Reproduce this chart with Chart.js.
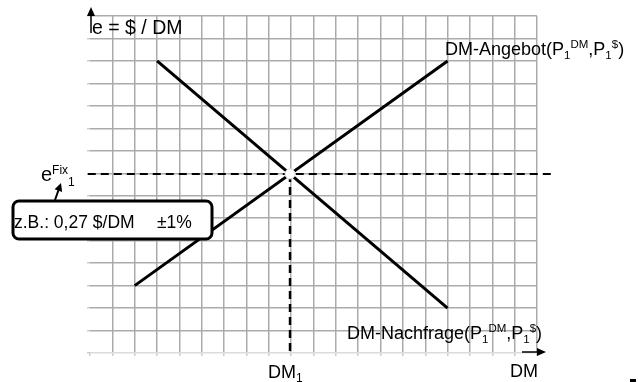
<!DOCTYPE html>
<html>
<head>
<meta charset="utf-8">
<script src="https://cdn.jsdelivr.net/npm/chart.js@4"></script>
<style>
  body { margin: 0; background: #fff; }
  #wrap { width: 638px; height: 382px; }
</style>
</head>
<body>
<div id="wrap"><canvas id="fxChart" width="638" height="382"></canvas></div>
<script>
// axis range (grid units)
const xRange = [0, 20];
const yRange = [0, 15];

// supply and demand lines (start / end)
const supplyX = [2, 16];
const supplyY = [3, 13];
const demandX = [3, 16];
const demandY = [13, 2];

// equilibrium point and the dashed guide lines
const eqX = [8.95];
const eqY = [7.97];
const fixLineX = [-0.1, 20.8];
const dmLineY = [7.97, 0];

const FONT = "'Liberation Sans', Arial, sans-serif";

function toPoints(xs, ys) {
  return xs.map((x, i) => ({ x: x, y: ys[i] }));
}

// draws text with sub/superscripts, parts = [text, size, dy]
function richText(ctx, x, y, parts) {
  parts.forEach(p => {
    ctx.font = p[1] + "px " + FONT;
    ctx.fillText(p[0], x, y + p[2]);
    x += ctx.measureText(p[0]).width;
  });
}

function arrow(ctx, x1, y1, x2, y2, head, half) {
  const a = Math.atan2(y2 - y1, x2 - x1);
  ctx.beginPath();
  ctx.moveTo(x1, y1);
  ctx.lineTo(x2 - Math.cos(a) * head * 0.8, y2 - Math.sin(a) * head * 0.8);
  ctx.stroke();
  ctx.beginPath();
  ctx.moveTo(x2, y2);
  ctx.lineTo(x2 - Math.cos(a) * head - Math.sin(a) * half, y2 - Math.sin(a) * head + Math.cos(a) * half);
  ctx.lineTo(x2 - Math.cos(a) * head + Math.sin(a) * half, y2 - Math.sin(a) * head - Math.cos(a) * half);
  ctx.closePath();
  ctx.fill();
}

const labelsPlugin = {
  id: "labels",
  afterDraw(chart) {
    const ctx = chart.ctx;
    const xs = chart.scales.x, ys = chart.scales.y;
    ctx.save();
    ctx.fillStyle = "#000";
    ctx.strokeStyle = "#000";
    ctx.textBaseline = "alphabetic";

    // axis arrows
    ctx.lineWidth = 1.5;
    const left = xs.getPixelForValue(xRange[0]);
    const top = ys.getPixelForValue(yRange[1]);
    const bottom = ys.getPixelForValue(yRange[0]);
    arrow(ctx, left + 1, top + 17, left + 1, top - 9, 9, 4);
    arrow(ctx, xs.getPixelForValue(xRange[1]) - 15, bottom - 1, xs.getPixelForValue(xRange[1]) + 9, bottom - 1, 9, 4);

    richText(ctx, left + 2, top + 18, [["e = $ / DM", 19.5, 0]]);

    const sub = 11.5;
    richText(ctx, 445, 55, [["DM-Angebot(P", 18, 0], ["1", sub, 4], ["DM", sub, -7], [",P", 18, 0], ["1", sub, 4], ["$", sub, -7], [")", 18, 0]]);
    richText(ctx, 347, 339, [["DM-Nachfrage(P", 18, 0], ["1", sub, 4], ["DM", sub, -7], [",P", 18, 0], ["1", sub, 4], ["$", sub, -7], [")", 18, 0]]);

    richText(ctx, 268, 378, [["DM", 18, 0], ["1", 12, 4]]);
    richText(ctx, 510, 377, [["DM", 18, 0]]);

    richText(ctx, 41, 181, [["e", 20, 0], ["Fix", 12, -7], ["1", 12, 5]]);
    ctx.lineWidth = 2;
    arrow(ctx, 55, 200, 61, 183, 8, 4);

    // note box
    const bx = 13, by = 201, bw = 199, bh = 38, r = 6;
    ctx.beginPath();
    ctx.moveTo(bx + r, by);
    ctx.arcTo(bx + bw, by, bx + bw, by + bh, r);
    ctx.arcTo(bx + bw, by + bh, bx, by + bh, r);
    ctx.arcTo(bx, by + bh, bx, by, r);
    ctx.arcTo(bx, by, bx + bw, by, r);
    ctx.closePath();
    ctx.fillStyle = "#fff";
    ctx.fill();
    ctx.lineWidth = 3;
    ctx.stroke();
    ctx.fillStyle = "#000";
    richText(ctx, 14, 228, [["z.B.: 0,27 $/DM", 17.5, 0]]);
    richText(ctx, 157, 228, [["\u00b11%", 17.5, 0]]);

    ctx.fillRect(630, 379, 6, 3);
    ctx.restore();
  }
};

const gridColor = "#ababab";

new Chart(document.getElementById("fxChart"), {
  type: "scatter",
  data: {
    datasets: [
      {
        data: toPoints(eqX, eqY),
        pointRadius: 5,
        pointBackgroundColor: "#fff",
        pointBorderColor: "#e0e0e0",
        pointBorderWidth: 1,
        order: 0,
      },
      {
        data: toPoints(supplyX, supplyY),
        showLine: true,
        borderColor: "#000",
        borderWidth: 3,
        pointRadius: 0,
        order: 1,
      },
      {
        data: toPoints(demandX, demandY),
        showLine: true,
        borderColor: "#000",
        borderWidth: 3,
        pointRadius: 0,
        order: 1,
      },
      {
        data: toPoints(fixLineX, [eqY[0], eqY[0]]),
        showLine: true,
        borderColor: "#000",
        borderWidth: 2,
        borderDash: [8, 5],
        pointRadius: 0,
        clip: false,
        order: 2,
      },
      {
        data: toPoints([eqX[0], eqX[0]], dmLineY),
        showLine: true,
        borderColor: "#000",
        borderWidth: 2.5,
        borderDash: [8, 5],
        pointRadius: 0,
        clip: false,
        order: 2,
      },
    ],
  },
  options: {
    responsive: false,
    animation: false,
    layout: { padding: { left: 87, top: 16, right: 101, bottom: 26 } },
    plugins: { legend: { display: false }, tooltip: { enabled: false } },
    scales: {
      x: {
        type: "linear",
        min: xRange[0],
        max: xRange[1],
        ticks: { display: false, stepSize: 1 },
        border: { display: false },
        grid: {
          color: c => (c.tick && c.tick.value === 0 ? "rgba(0,0,0,0)" : gridColor),
          tickColor: "#ccc",
          lineWidth: 1.5,
          tickLength: 3,
        },
      },
      y: {
        type: "linear",
        min: yRange[0],
        max: yRange[1],
        ticks: { display: false, stepSize: 1 },
        border: { display: false },
        grid: {
          color: c => (c.tick && c.tick.value === 0 ? "#dcdcdc" : gridColor),
          tickColor: "#ccc",
          lineWidth: 1.5,
          tickLength: 3,
        },
      },
    },
  },
  plugins: [labelsPlugin],
});
</script>
</body>
</html>
